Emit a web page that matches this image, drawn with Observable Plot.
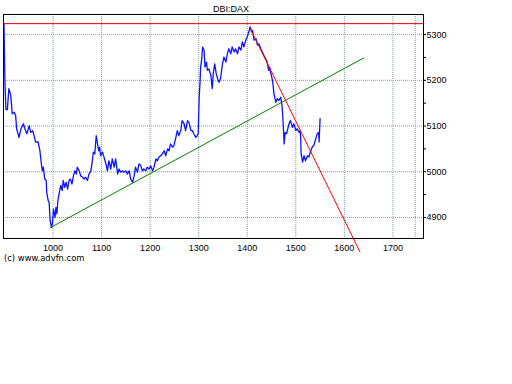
<!DOCTYPE html>
<html>
<head>
<meta charset="utf-8">
<script src="https://cdn.jsdelivr.net/npm/d3@7"></script>
<script src="https://cdn.jsdelivr.net/npm/@observablehq/plot@0.6"></script>
<style>
  html, body { margin: 0; padding: 0; background: #fff; }
  #chart { position: relative; width: 512px; height: 384px; }
</style>
</head>
<body>
<div id="chart"></div>
<script>
const title = "DBI:DAX";
const caption = "(c) www.advfn.com";
const xTicks = [1000, 1100, 1200, 1300, 1400, 1500, 1600, 1700];
const yTicks = [4900, 5000, 5100, 5200, 5300];
const yMinorTicks = [4950, 5050, 5150, 5250];
const xDomain = [898, 1763];
const yDomain = [4854, 5344];
const extraGridX = [1746];
const resistanceLevel = [5324];
const greenTrendX = [995, 1640];
const greenTrendY = [4878, 5249];
const redTrendX = [1405, 1632];
const redTrendY = [5316, 4825];

const priceX = [899,901,903,906,909,913,916,920,923,925,
930,934,939,942,946,951,954,958,961,964,
969,973,976,978,980,983,986,987,990,992,
994,997,999,1001,1004,1006,1008,1010,1013,1016,
1019,1021,1024,1027,1030,1033,1036,1039,1042,1045,
1048,1050,1054,1057,1061,1064,1067,1071,1074,1078,
1081,1083,1086,1089,1094,1096,1098,1102,1105,1109,
1112,1115,1119,1122,1126,1129,1133,1136,1139,1143,
1146,1150,1153,1157,1160,1164,1167,1170,1174,1177,
1181,1184,1187,1191,1194,1198,1201,1205,1208,1212,
1215,1218,1222,1225,1229,1232,1236,1239,1242,1246,
1249,1253,1256,1259,1263,1266,1270,1273,1277,1280,
1284,1287,1290,1294,1297,1299,1301,1303,1304,1306,
1308,1311,1313,1316,1318,1321,1325,1328,1330,1333,
1336,1340,1342,1345,1349,1352,1356,1359,1362,1366,
1369,1373,1376,1380,1383,1387,1390,1393,1397,1400,
1404,1406,1409,1411,1414,1418,1421,1424,1428,1431,
1434,1438,1441,1444,1446,1448,1452,1455,1459,1462,
1465,1469,1472,1474,1476,1478,1481,1486,1489,1493,
1496,1500,1503,1507,1509,1510,1511,1514,1517,1520,
1524,1527,1531,1534,1537,1541,1544,1547,1548,1550];

const priceY = [5322,5196,5136,5136,5182,5167,5127,5130,5123,5094,
5075,5094,5105,5094,5083,5101,5086,5090,5079,5065,
5066,5046,5017,5002,5010,4984,4981,4955,4937,4933,
4893,4878,4889,4918,4900,4922,4908,4937,4955,4970,
4959,4981,4966,4977,4962,4981,4984,4973,4991,5002,
4995,5010,5002,4991,4988,4984,4988,4981,4995,5002,
5024,5043,5039,5079,5046,5054,5035,5043,5032,5017,
5002,5024,5006,5028,5010,5028,4995,5006,4999,5002,
4999,5002,4995,5002,4984,4977,4991,5010,4999,5017,
5013,5002,5006,5002,5010,5006,5013,5002,5010,5028,
5024,5032,5035,5039,5046,5035,5050,5046,5061,5054,
5057,5075,5090,5079,5090,5112,5105,5090,5112,5108,
5090,5090,5083,5075,5079,5083,5163,5200,5229,5244,
5273,5266,5229,5240,5222,5225,5211,5182,5215,5236,
5215,5200,5196,5204,5236,5251,5240,5258,5269,5258,
5273,5262,5269,5258,5273,5266,5284,5273,5288,5295,
5309,5317,5306,5309,5288,5291,5277,5280,5269,5262,
5255,5247,5240,5222,5229,5218,5200,5171,5152,5160,
5156,5163,5141,5105,5061,5086,5083,5105,5112,5097,
5105,5090,5094,5086,5090,5075,5039,5021,5035,5024,
5035,5032,5046,5054,5057,5072,5083,5086,5065,5116];

const price = priceX.map((x, i) => ({x, y: priceY[i]}));
const green = greenTrendX.map((x, i) => ({x, y: greenTrendY[i]}));
const red = redTrendX.map((x, i) => ({x, y: redTrendY[i]}));
const gridStyle = {stroke: "#7f9f9f", strokeDasharray: "1,1", strokeWidth: 1};

const chart = Plot.plot({
  width: 512,
  height: 384,
  marginLeft: 3,
  marginRight: 89,
  marginTop: 14,
  marginBottom: 146,
  x: {domain: xDomain},
  y: {domain: yDomain},
  style: {fontFamily: "'Liberation Sans', Arial, sans-serif", fontSize: "9px", background: "#fff", color: "#000"},
  marks: [
    Plot.ruleX(xTicks.concat(extraGridX), gridStyle),
    Plot.ruleY(yTicks, gridStyle),
    Plot.ruleY(resistanceLevel, {stroke: "#e00000", strokeWidth: 1}),
    Plot.line(price, {x: "x", y: "y", stroke: "#0a14ff", strokeWidth: 1.3}),
    Plot.line(green, {x: "x", y: "y", stroke: "#008000", strokeWidth: 1}),
    Plot.line(red, {x: "x", y: "y", stroke: "#ff0000", strokeWidth: 1}),
    Plot.frame({stroke: "#000"}),
    Plot.axisX({ticks: xTicks, tickSize: 0, tickPadding: 6, tickFormat: d => String(d), label: null}),
    Plot.axisY({anchor: "right", ticks: yTicks, tickSize: 2, tickPadding: 1, tickFormat: d => String(d), label: null}),
    Plot.axisY({anchor: "right", ticks: yMinorTicks, tickSize: 2, tickFormat: () => "", label: null})
  ]
});

const svg = d3.select(chart);
svg.append("text")
  .attr("x", 231).attr("y", 11.7)
  .attr("text-anchor", "middle")
  .attr("font-family", "'Liberation Sans', Arial, sans-serif")
  .attr("font-size", "9px")
  .attr("fill", "#000")
  .text(title);
svg.append("text")
  .attr("x", 4).attr("y", 261)
  .attr("text-anchor", "start")
  .attr("font-family", "'DejaVu Sans', Verdana, sans-serif")
  .attr("font-size", "8.4px")
  .attr("fill", "#000")
  .text(caption);

document.getElementById("chart").appendChild(chart);
</script>
</body>
</html>
